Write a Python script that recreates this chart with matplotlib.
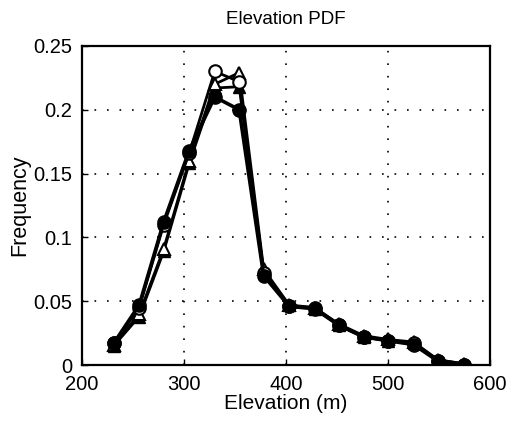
import matplotlib
matplotlib.use("Agg")
import matplotlib.pyplot as plt

plt.rcParams['font.family'] = ['Liberation Sans', 'DejaVu Sans']

# elevation bin centres (m)
elev = [231, 256, 280, 305, 330, 354, 378, 403, 428, 452, 476, 500, 525, 549, 574]

# frequency of each series
freq_filled_circ = [0.017, 0.047, 0.112, 0.168, 0.210, 0.200, 0.070, 0.046, 0.044, 0.031, 0.022, 0.019, 0.016, 0.003, 0.000]
freq_open_circ = [0.017, 0.045, 0.110, 0.166, 0.230, 0.222, 0.072, 0.046, 0.045, 0.031, 0.022, 0.019, 0.017, 0.003, 0.000]
freq_open_tri = [0.016, 0.040, 0.091, 0.160, 0.220, 0.229, 0.075, 0.047, 0.045, 0.032, 0.023, 0.020, 0.018, 0.004, 0.001]
freq_filled_tri = [0.015, 0.038, 0.089, 0.158, 0.217, 0.218, 0.073, 0.047, 0.044, 0.031, 0.022, 0.019, 0.017, 0.004, 0.001]

xticks = [200, 300, 400, 500, 600]
yticks = [0, 0.05, 0.1, 0.15, 0.2, 0.25]
yticklabels = ['0', '0.05', '0.1', '0.15', '0.2', '0.25']

fig = plt.figure(figsize=(5.10, 4.21), dpi=100)
ax = fig.add_axes([0.161, 0.133, 0.800, 0.758])

ax.plot(elev, freq_filled_tri, '-^', color='k', mfc='k', lw=2, ms=9)
ax.plot(elev, freq_open_tri, '-^', color='k', mfc='white', mew=1.5, lw=2, ms=9)
ax.plot(elev, freq_open_circ, '-o', color='k', mfc='white', mew=1.5, lw=2, ms=9)
ax.plot(elev, freq_filled_circ, '-o', color='k', mfc='k', lw=2.6, ms=9.5)

ax.set_xlim(200, 600)
ax.set_ylim(0, 0.25)
ax.set_xticks(xticks)
ax.set_yticks(yticks)
ax.set_yticklabels(yticklabels)
ax.grid(True, color='k', linestyle=(0, (1, 6.5)), linewidth=1.2)
ax.tick_params(direction='in', length=4, labelsize=14.5, width=1, pad=7)
for s in ax.spines.values():
    s.set_linewidth(1.6)

ax.set_title('Elevation PDF', fontsize=13.5, pad=16)
ax.set_xlabel('Elevation (m)', fontsize=15, labelpad=0)
ax.set_ylabel('Frequency', fontsize=15.5, labelpad=2)

fig.savefig('out.png', dpi=100)
